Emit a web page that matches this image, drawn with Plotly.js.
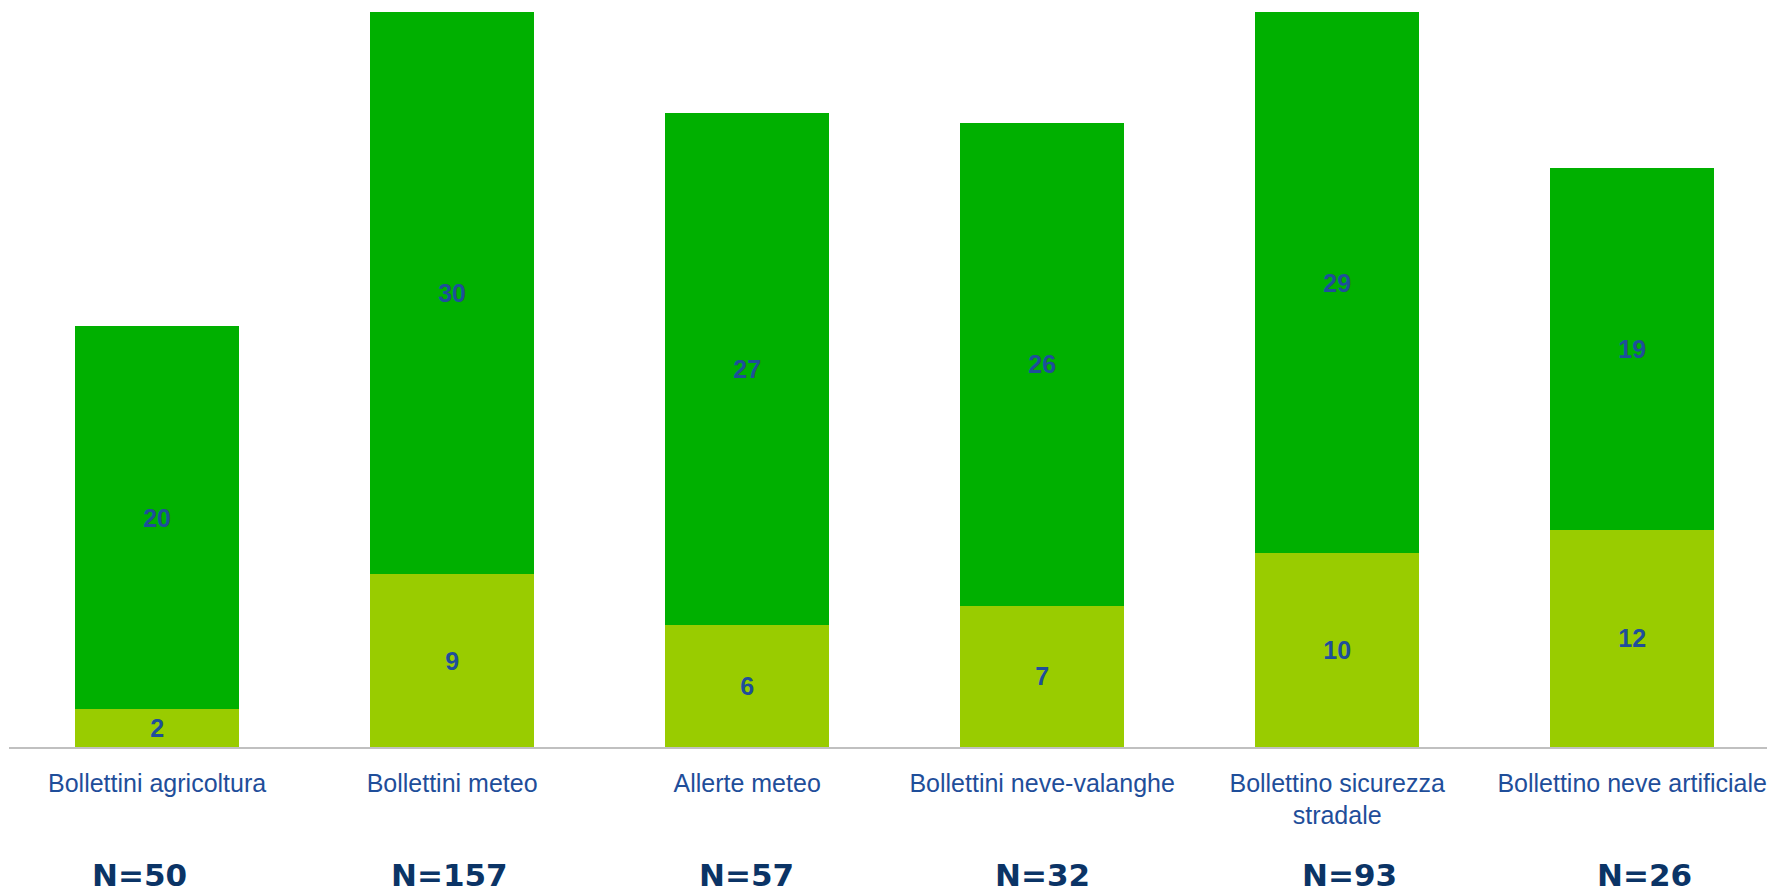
<!DOCTYPE html>
<html>
<head>
<meta charset="utf-8">
<script src="https://cdn.plot.ly/plotly-3.0.1.min.js"></script>
<style>
  html, body { margin: 0; padding: 0; background: #ffffff; }
  #chart { width: 1767px; height: 892px; }
</style>
</head>
<body>
<div id="chart"></div>
<script>
// Categories (x-axis tick labels)
const categories = [
  "Bollettini agricoltura",
  "Bollettini meteo",
  "Allerte meteo",
  "Bollettini neve-valanghe",
  "Bollettino sicurezza<br>stradale",
  "Bollettino neve artificiale"
];

const lowerValues = [2.0, 9.2, 6.5, 7.5, 10.3, 11.55];
const lowerLabels = ["2", "9", "6", "7", "10", "12"];

const upperValues = [20.4, 29.9, 27.2, 25.7, 28.8, 19.25];
const upperLabels = ["20", "30", "27", "26", "29", "19"];

// Sample sizes shown under each category
const sampleSizes = ["N=50", "N=157", "N=57", "N=32", "N=93", "N=26"];

const labelColor = "#1F4E9A";
const nColor = "#0B3466";

const barText = {
  family: "Liberation Sans, Arial, sans-serif",
  size: 25,
  color: labelColor,
  weight: "bold"
};

const traces = [
  {
    type: "bar",
    x: categories,
    y: lowerValues,
    text: lowerLabels,
    texttemplate: "%{text}",
    textposition: "inside",
    insidetextanchor: "middle",
    textangle: 0,
    constraintext: "none",
    textfont: barText,
    marker: { color: "#99CC00", line: { width: 0 } },
    hoverinfo: "skip"
  },
  {
    type: "bar",
    x: categories,
    y: upperValues,
    text: upperLabels,
    texttemplate: "%{text}",
    textposition: "inside",
    insidetextanchor: "middle",
    textangle: 0,
    constraintext: "none",
    textfont: barText,
    marker: { color: "#00B000", line: { width: 0 } },
    hoverinfo: "skip"
  }
];

const nShift = [-18, -3, -1, 0, 12, 12];
const annotations = sampleSizes.map((s, i) => ({
  x: categories[i],
  xref: "x",
  y: -0.172,
  yref: "paper",
  xanchor: "center",
  yanchor: "middle",
  xshift: nShift[i],
  showarrow: false,
  text: s,
  font: { family: "DejaVu Sans, Verdana, sans-serif", size: 31, color: nColor, weight: "bold" }
}));

const layout = {
  width: 1767,
  height: 892,
  margin: { l: 9, r: 0, t: 0, b: 145, pad: 0 },
  paper_bgcolor: "#ffffff",
  plot_bgcolor: "#ffffff",
  barmode: "stack",
  bargap: 0.442,
  showlegend: false,
  hovermode: false,
  uniformtext: { mode: "show", minsize: 25 },
  xaxis: {
    type: "category",
    range: [-0.502, 5.457],
    showline: true,
    linecolor: "#C0C0C0",
    linewidth: 1.5,
    showgrid: false,
    zeroline: false,
    ticks: "",
    ticklabelstandoff: 13,
    tickfont: { family: "Liberation Sans, Arial, sans-serif", size: 25, color: labelColor },
    fixedrange: true
  },
  yaxis: {
    range: [0, 39.73],
    visible: false,
    showgrid: false,
    zeroline: false,
    fixedrange: true
  },
  annotations: annotations,
  font: { family: "Liberation Sans, Arial, sans-serif" }
};

Plotly.newPlot("chart", traces, layout, { displayModeBar: false, staticPlot: true });
</script>
</body>
</html>
